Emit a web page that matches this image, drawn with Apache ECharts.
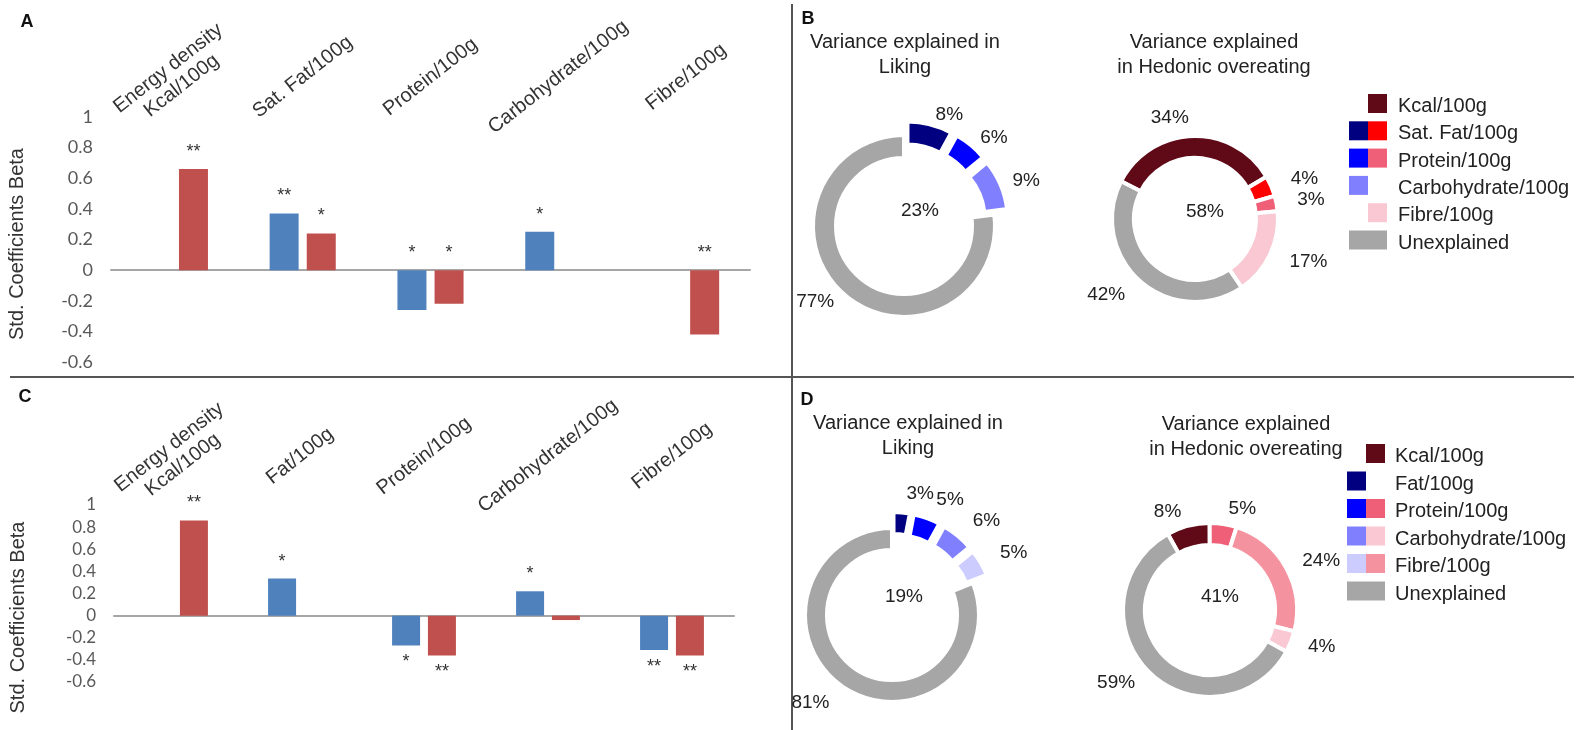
<!DOCTYPE html>
<html><head><meta charset="utf-8">
<script src="https://cdn.jsdelivr.net/npm/echarts@6/dist/echarts.min.js"></script>
<style>html,body{margin:0;padding:0;background:#fff}#c{width:1585px;height:730px}</style>
</head><body><div id="c"></div>
<script>
// ---------- DATA ----------
const categoriesA = ['Energy density\nKcal/100g', 'Sat. Fat/100g', 'Protein/100g', 'Carbohydrate/100g', 'Fibre/100g'];
const likingA   = [null, 0.37, -0.26, 0.25, null];
const hedonicA  = [0.66, 0.24, -0.22, null, -0.42];
const sigLikingA  = ['', '**', '*', '*', ''];
const sigHedonicA = ['**', '*', '*', '', '**'];

const categoriesC = ['Energy density\nKcal/100g', 'Fat/100g', 'Protein/100g', 'Carbohydrate/100g', 'Fibre/100g'];
const likingC   = [null, 0.335, -0.27, 0.22, -0.31];
const hedonicC  = [0.86, null, -0.36, -0.04, -0.36];
const sigLikingC  = ['', '*', '*', '*', '**'];
const sigHedonicC = ['**', '', '**', '', '**'];

const yTicks = {min: -0.6, max: 1, interval: 0.2};

const pieBLikingNames  = ['Sat. Fat/100g', 'Protein/100g', 'Carbohydrate/100g', 'Unexplained'];
const pieBLikingValues = [8, 6, 9, 77];
const pieBLikingColors = ['navy', 'blue', 'lblue', 'grey'];
const pieBLikingExplode = [true, true, true, false];

const pieBHedNames  = ['Kcal/100g', 'Sat. Fat/100g', 'Protein/100g', 'Fibre/100g', 'Unexplained'];
const pieBHedValues = [34, 4, 3, 17, 42];
const pieBHedColors = ['kcal', 'red', 'pink', 'lpink', 'grey'];
const pieBHedExplode = [false, false, false, false, false];

const pieDLikingNames  = ['Fat/100g', 'Protein/100g', 'Carbohydrate/100g', 'Fibre/100g', 'Unexplained'];
const pieDLikingValues = [3, 5, 6, 5, 81];
const pieDLikingColors = ['navy', 'blue', 'lblue', 'lav', 'grey'];
const pieDLikingExplode = [true, true, true, true, false];

const pieDHedNames  = ['Kcal/100g', 'Protein/100g', 'Fibre/100g', 'Carbohydrate/100g', 'Unexplained'];
const pieDHedValues = [8, 5, 24, 4, 59];
const pieDHedColors = ['kcal', 'pink', 'rose', 'lpink', 'grey'];
const pieDHedExplode = [false, false, false, false, false];

const centerTotals = ['23%', '58%', '19%', '41%'];

const legendBLabels = ['Kcal/100g', 'Sat. Fat/100g', 'Protein/100g', 'Carbohydrate/100g', 'Fibre/100g', 'Unexplained'];
const legendBLeft   = [null, 'navy', 'blue', 'lblue', null, 'grey'];
const legendBRight  = ['kcal', 'red', 'pink', null, 'lpink', 'grey'];
const legendDLabels = ['Kcal/100g', 'Fat/100g', 'Protein/100g', 'Carbohydrate/100g', 'Fibre/100g', 'Unexplained'];
const legendDLeft   = [null, 'navy', 'blue', 'lblue', 'lav', 'grey'];
const legendDRight  = ['kcal', null, 'pink', 'lpink', 'rose', 'grey'];

const pieTitles = ['Variance explained in\nLiking', 'Variance explained\nin Hedonic overeating',
                   'Variance explained in\nLiking', 'Variance explained\nin Hedonic overeating'];
const panelLetters = ['A', 'B', 'C', 'D'];

// ---------- STYLE ----------
const FONT = 'Liberation Sans, Arial, sans-serif';
const PAL = {kcal:'#600a18', navy:'#000080', blue:'#0000ff', lblue:'#8080ff', lav:'#ccccff',
             red:'#ff0000', pink:'#ef5f77', rose:'#f4939f', lpink:'#f9c8d2', grey:'#a6a6a6'};
const BLUE = '#4f81bd', RED = '#c0504d';

const chart = echarts.init(document.getElementById('c'));

function yAxisCfg(grid, fs, padR, gap) {
  return {
    gridIndex: grid, type: 'value', min: yTicks.min, max: yTicks.max, interval: yTicks.interval,
    axisLine: {show: false}, axisTick: {show: false}, splitLine: {show: false},
    axisLabel: {color: '#595959', fontFamily: 'Lato, sans-serif', fontSize: fs, margin: 18},
    name: 'Std. Coefficients Beta', nameLocation: 'middle', nameGap: gap,
    nameTextStyle: {fontFamily: FONT, fontSize: 20, color: '#333', padding: [0, padR, 0, 0]}
  };
}
function xAxesCfg(grid, cats, margin) {
  return [
    {gridIndex: grid, type: 'category', data: cats, position: 'bottom',
     axisLine: {onZero: true, lineStyle: {color: '#a6a6a6', width: 2}},
     axisTick: {show: false}, axisLabel: {show: false}},
    {gridIndex: grid, type: 'category', data: cats, position: 'top',
     axisLine: {show: false, onZero: false}, axisTick: {show: false},
     axisLabel: {interval: 0, rotate: -38, align: 'center', verticalAlign: 'middle', margin: margin,
                 fontFamily: FONT, fontSize: 20, color: '#333', lineHeight: 22}}
  ];
}
function barSeries(name, xi, yi, vals, sig, color, bw, negPos) {
  return {
    type: 'bar', name: name, xAxisIndex: xi, yAxisIndex: yi, barWidth: bw, barGap: '28%',
    itemStyle: {color: color},
    data: vals.map(v => (v === null ? null : {value: v, label: {position: v < 0 ? negPos : 'top'}})),
    label: {show: true, distance: 8, fontFamily: FONT, fontSize: 18, color: '#333',
            formatter: p => sig[p.dataIndex]}
  };
}
function pieSeries(c) {
  return {
    type: 'pie', center: c.center, radius: c.radius, startAngle: c.startAngle, clockwise: true,
    avoidLabelOverlap: false, selectedMode: 'multiple', selectedOffset: c.offset,
    emphasis: {disabled: true},
    itemStyle: {borderColor: '#fff', borderWidth: 4},
    select: {itemStyle: {borderColor: '#fff', borderWidth: 4}},
    label: {show: true, position: 'outside', formatter: '{c}%', fontFamily: FONT, fontSize: 19,
            color: '#222', distanceToLabelLine: 3},
    labelLine: {show: false, length: c.lineLen, length2: 0},
    labelLayout: {hideOverlap: false},
    data: c.names.map((n, i) => ({name: n, value: c.values[i], selected: c.explode[i],
                                  itemStyle: {color: PAL[c.colors[i]]}}))
  };
}

// graphic: dividers, letters, titles, centre totals, legends
const graphic = [];
graphic.push({type: 'line', shape: {x1: 792, y1: 4, x2: 792, y2: 730}, style: {stroke: '#555', lineWidth: 2}});
graphic.push({type: 'line', shape: {x1: 10, y1: 377, x2: 1574, y2: 377}, style: {stroke: '#555', lineWidth: 2}});
const letterPos = [[27, 22], [808, 19], [25, 397], [807, 400]];
panelLetters.forEach((t, i) => graphic.push({type: 'text', x: letterPos[i][0], y: letterPos[i][1],
  style: {text: t, font: 'bold 18px ' + FONT, fill: '#111', align: 'center', verticalAlign: 'middle'}}));
const titlePos = [[905, 55], [1214, 55], [908, 436], [1246, 437]];
pieTitles.forEach((t, i) => graphic.push({type: 'text', x: titlePos[i][0], y: titlePos[i][1],
  style: {text: t, font: '20px ' + FONT, fill: '#222', align: 'center', verticalAlign: 'middle', lineHeight: 25}}));
const totalPos = [[920, 211], [1205, 212], [904, 597], [1220, 597]];
centerTotals.forEach((t, i) => graphic.push({type: 'text', x: totalPos[i][0], y: totalPos[i][1],
  style: {text: t, font: '19px ' + FONT, fill: '#222', align: 'center', verticalAlign: 'middle'}}));
function legend(labels, left, right, x0, y0, step, tx) {
  const sw = 19;
  labels.forEach((lab, i) => {
    const y = y0 + i * step;
    if (left[i]) graphic.push({type: 'rect', shape: {x: x0, y: y, width: sw, height: sw}, style: {fill: PAL[left[i]]}});
    if (right[i]) graphic.push({type: 'rect', shape: {x: x0 + sw, y: y, width: sw, height: sw}, style: {fill: PAL[right[i]]}});
    graphic.push({type: 'text', x: tx, y: y + sw / 2 + 3,
      style: {text: lab, font: '20px ' + FONT, fill: '#222', align: 'left', verticalAlign: 'middle'}});
  });
}
legend(legendBLabels, legendBLeft, legendBRight, 1349, 94, 27.3, 1398);
legend(legendDLabels, legendDLeft, legendDRight, 1347, 444, 27.5, 1395);

const option = {
  animation: false,
  backgroundColor: '#fff',
  grid: [
    {left: 111, top: 117, width: 639, height: 245, outerBoundsMode: 'none'},
    {left: 114, top: 505, width: 620, height: 177, outerBoundsMode: 'none'}
  ],
  xAxis: [].concat(xAxesCfg(0, categoriesA, 40), xAxesCfg(1, categoriesC, 49)),
  yAxis: [yAxisCfg(0, 18, 9, 84), yAxisCfg(1, 17, 48, 86)],
  series: [
    barSeries('Liking', 0, 0, likingA, sigLikingA, BLUE, 29, 'top'),
    barSeries('Hedonic overeating', 0, 0, hedonicA, sigHedonicA, RED, 29, 'top'),
    barSeries('Liking', 2, 1, likingC, sigLikingC, BLUE, 28, 'bottom'),
    barSeries('Hedonic overeating', 2, 1, hedonicC, sigHedonicC, RED, 28, 'bottom'),
    pieSeries({center: [904, 226], radius: [68, 91], startAngle: 90, offset: 14, lineLen: 10,
               names: pieBLikingNames, values: pieBLikingValues, colors: pieBLikingColors, explode: pieBLikingExplode}),
    pieSeries({center: [1195, 219], radius: [61, 83], startAngle: 153, offset: 0, lineLen: 18,
               names: pieBHedNames, values: pieBHedValues, colors: pieBHedColors, explode: pieBHedExplode}),
    pieSeries({center: [892, 615], radius: [65, 87], startAngle: 90, offset: 16, lineLen: 19,
               names: pieDLikingNames, values: pieDLikingValues, colors: pieDLikingColors, explode: pieDLikingExplode}),
    pieSeries({center: [1210, 610], radius: [65, 87], startAngle: 119, offset: 0, lineLen: 15,
               names: pieDHedNames, values: pieDHedValues, colors: pieDHedColors, explode: pieDHedExplode})
  ],
  graphic: graphic
};
chart.setOption(option);
</script></body></html>
